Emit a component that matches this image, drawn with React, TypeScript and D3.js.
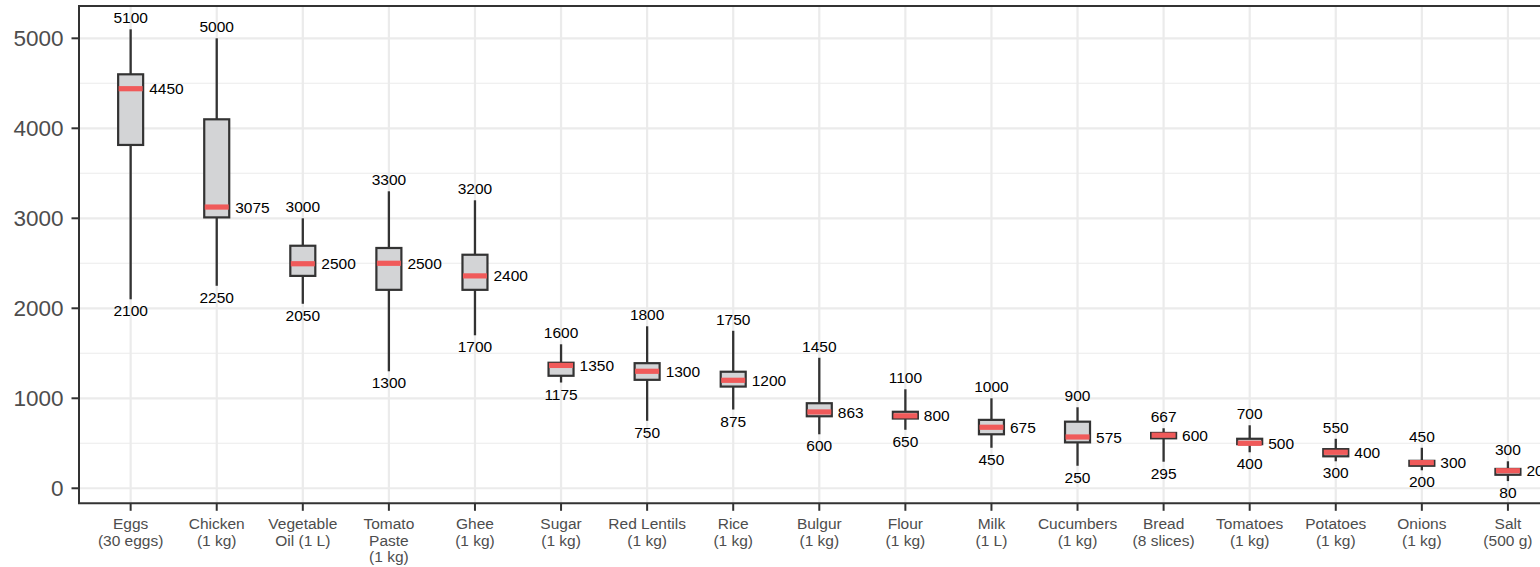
import React from "react";
import * as d3 from "d3";

const categories = [
  "Eggs\n(30 eggs)", "Chicken\n(1 kg)", "Vegetable\nOil (1 L)", "Tomato\nPaste\n(1 kg)", "Ghee\n(1 kg)",
  "Sugar\n(1 kg)", "Red Lentils\n(1 kg)", "Rice\n(1 kg)", "Bulgur\n(1 kg)", "Flour\n(1 kg)", "Milk\n(1 L)",
  "Cucumbers\n(1 kg)", "Bread\n(8 slices)", "Tomatoes\n(1 kg)", "Potatoes\n(1 kg)", "Onions\n(1 kg)", "Salt\n(500 g)",
];
const mins = [2100, 2250, 2050, 1300, 1700, 1175, 750, 875, 600, 650, 450, 250, 295, 400, 300, 200, 80];
const q1s = [3815, 3010, 2360, 2205, 2205, 1250, 1205, 1130, 800, 775, 600, 510, 555, 490, 355, 250, 150];
const medians = [4440, 3125, 2495, 2500, 2360, 1365, 1300, 1200, 848, 805, 678, 570, 590, 500, 400, 285, 195];
const q3s = [4600, 4100, 2695, 2670, 2595, 1395, 1390, 1295, 945, 850, 760, 740, 615, 550, 435, 305, 215];
const maxs = [5100, 5000, 3000, 3300, 3200, 1600, 1800, 1750, 1450, 1100, 1000, 900, 667, 700, 550, 450, 300];
const medianLabels = ["4450", "3075", "2500", "2500", "2400", "1350", "1300", "1200", "863", "800", "675", "575", "600", "500", "400", "300", "200"];
const yTicks = [0, 1000, 2000, 3000, 4000, 5000];
const yMinorTicks = [500, 1500, 2500, 3500, 4500];

const W = 1540;
const H = 567;
const panelLeft = 79;
const panelTop = 6;
const panelBottom = 503.3;
const step = 86.08;
const FONT = "'Liberation Sans', Arial, Helvetica, sans-serif";

export default function App() {
  const x = d3
    .scalePoint<string>()
    .domain(categories)
    .range([panelLeft, panelLeft + step * (categories.length - 1 + 1.2)])
    .padding(0.6);
  const y = d3.scaleLinear().domain([-167, 5359]).range([panelBottom, panelTop]);
  const panelRight = panelLeft + step * (categories.length - 1 + 1.2);
  const boxHalf = 12.5;
  const gridColor = "#EBEBEB";
  const dark = "#333333";

  return (
    <svg
      width={W}
      height={H}
      style={{ position: "absolute", left: 0, top: 0, display: "block", background: "#fff" }}
      fontFamily={FONT}
    >
      <rect x={0} y={0} width={W} height={H} fill="#fff" />
      {/* minor grid */}
      {yMinorTicks.map((t) => (
        <line key={"mn" + t} x1={panelLeft} x2={panelRight} y1={y(t)} y2={y(t)} stroke={gridColor} strokeWidth={1.1} />
      ))}
      {/* major grid */}
      {yTicks.map((t) => (
        <line key={"mj" + t} x1={panelLeft} x2={panelRight} y1={y(t)} y2={y(t)} stroke={gridColor} strokeWidth={2.2} />
      ))}
      {categories.map((c) => (
        <line key={"vx" + c} x1={x(c)} x2={x(c)} y1={panelTop} y2={panelBottom} stroke={gridColor} strokeWidth={2.2} />
      ))}

      {/* boxes */}
      {categories.map((c, i) => {
        const cx = x(c) as number;
        return (
          <g key={"b" + c}>
            <line x1={cx} x2={cx} y1={y(maxs[i])} y2={y(q3s[i])} stroke={dark} strokeWidth={2.3} />
            <line x1={cx} x2={cx} y1={y(q1s[i])} y2={y(mins[i])} stroke={dark} strokeWidth={2.3} />
            <rect
              x={cx - boxHalf}
              y={y(q3s[i])}
              width={boxHalf * 2}
              height={y(q1s[i]) - y(q3s[i])}
              fill="#D3D4D6"
              stroke={dark}
              strokeWidth={2.2}
            />
            <rect x={cx - boxHalf + 0.5} y={y(medians[i]) - 2.6} width={boxHalf * 2 - 1} height={5.2} fill="#F05A5A" />
            <text x={cx} y={y(maxs[i]) - 6} textAnchor="middle" fontSize={15.5} fill="#000">
              {String(maxs[i])}
            </text>
            <text x={cx} y={y(mins[i]) + 17} textAnchor="middle" fontSize={15.5} fill="#000">
              {String(mins[i])}
            </text>
            <text x={cx + 18.5} y={y(medians[i])} dy="0.36em" textAnchor="start" fontSize={15.5} fill="#000">
              {medianLabels[i]}
            </text>
          </g>
        );
      })}

      {/* panel border */}
      <line x1={panelLeft} x2={panelLeft} y1={panelTop} y2={panelBottom} stroke={dark} strokeWidth={2} />
      <line x1={panelLeft - 1} x2={panelRight} y1={panelBottom} y2={panelBottom} stroke={dark} strokeWidth={2} />
      <line x1={panelLeft - 1} x2={panelRight} y1={panelTop} y2={panelTop} stroke={dark} strokeWidth={2} />

      {/* y axis */}
      {yTicks.map((t) => (
        <g key={"yt" + t}>
          <line x1={panelLeft - 7.5} x2={panelLeft} y1={y(t)} y2={y(t)} stroke={dark} strokeWidth={2} />
          <text x={panelLeft - 15.5} y={y(t)} dy="0.36em" textAnchor="end" fontSize={22.5} fill="#4D4D4D">
            {String(t)}
          </text>
        </g>
      ))}

      {/* x axis */}
      {categories.map((c) => {
        const cx = x(c) as number;
        const lines = c.split("\n");
        return (
          <g key={"xt" + c}>
            <line x1={cx} x2={cx} y1={panelBottom} y2={panelBottom + 7.5} stroke={dark} strokeWidth={2} />
            <text x={cx} y={529} textAnchor="middle" fontSize={15.5} fill="#4D4D4D">
              {lines.map((l, k) => (
                <tspan key={k} x={cx} dy={k === 0 ? 0 : 16.5}>
                  {l}
                </tspan>
              ))}
            </text>
          </g>
        );
      })}
    </svg>
  );
}
